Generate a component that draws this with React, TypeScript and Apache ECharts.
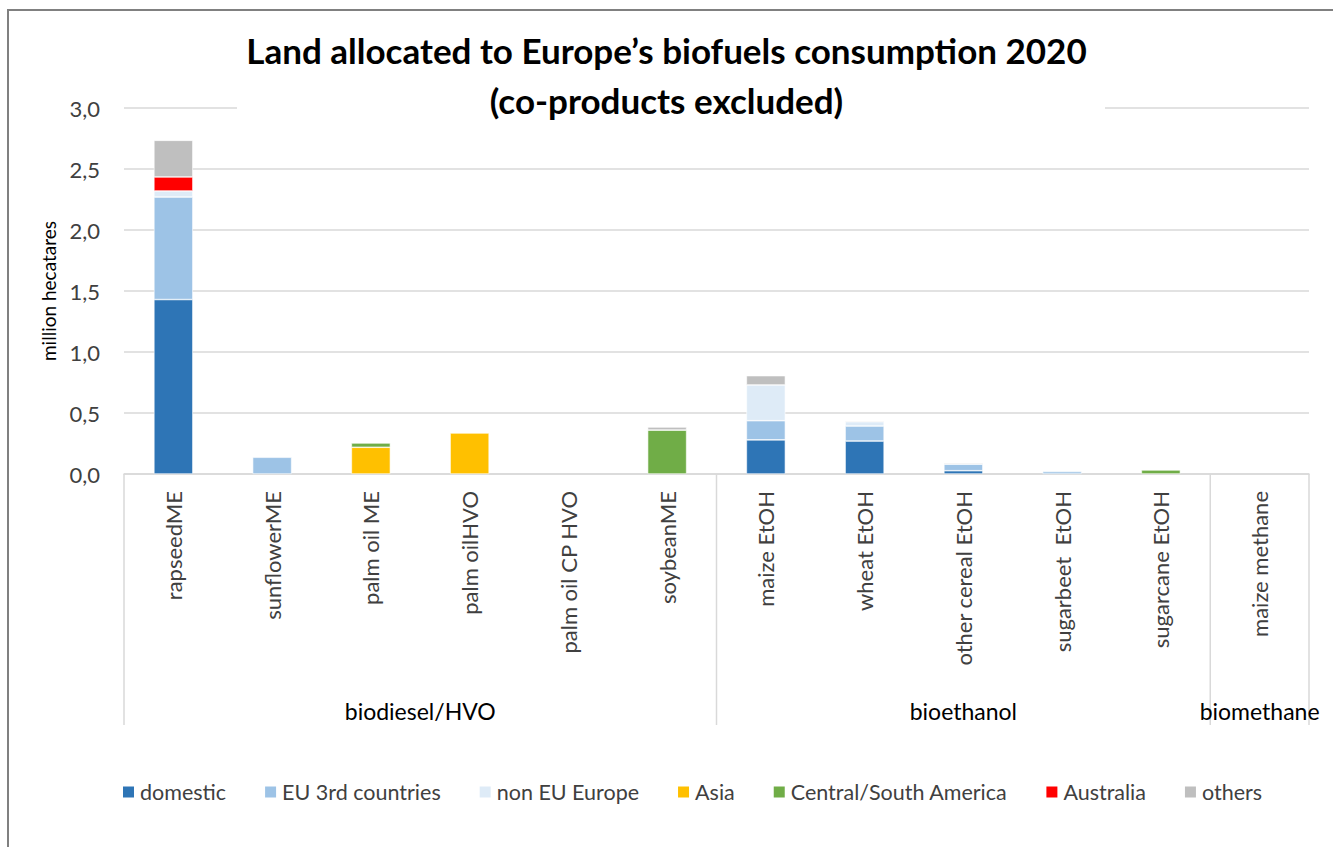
import React, { useEffect, useRef } from "react";
import * as echarts from "echarts";

const categories = [
  "rapseedME",
  "sunflowerME",
  "palm oil ME",
  "palm oilHVO",
  "palm oil CP HVO",
  "soybeanME",
  "maize EtOH",
  "wheat EtOH",
  "other cereal EtOH",
  "sugarbeet  EtOH",
  "sugarcane EtOH",
  "maize methane",
];

const groups = [
  { name: "biodiesel/HVO", start: 0, end: 6 },
  { name: "bioethanol", start: 6, end: 11 },
  { name: "biomethane", start: 11, end: 12 },
];

const domestic = [1.43, null, null, null, null, null, 0.28, 0.27, 0.027, null, null, null];
const eu3rd = [0.84, 0.137, null, null, null, null, 0.157, 0.123, 0.053, 0.02, null, null];
const nonEU = [0.05, null, null, null, null, null, 0.293, 0.036, null, null, null, null];
const asia = [null, null, 0.219, 0.336, null, null, null, null, null, null, null, null];
const csAmerica = [null, null, 0.035, null, null, 0.36, null, null, null, null, 0.033, null];
const australia = [0.115, null, null, null, null, null, null, null, null, null, null, null];
const others = [0.3, null, null, null, null, 0.025, 0.076, 0.008, 0.008, null, null, null];

const seriesDefs = [
  { name: "domestic", data: domestic, color: "#2E75B6" },
  { name: "EU 3rd countries", data: eu3rd, color: "#9DC3E6" },
  { name: "non EU Europe", data: nonEU, color: "#DEEBF7" },
  { name: "Asia", data: asia, color: "#FFC000" },
  { name: "Central/South America", data: csAmerica, color: "#70AD47" },
  { name: "Australia", data: australia, color: "#FF0000" },
  { name: "others", data: others, color: "#BFBFBF" },
];

const FONT = "Lato";
const TXT = "#404040";

export default function App() {
  const ref = useRef<HTMLDivElement>(null);
  useEffect(() => {
    if (!ref.current) return;
    const chart = echarts.init(ref.current, null, { renderer: "svg" });
    const option: any = {
      animation: false,
      backgroundColor: "#fff",
      textStyle: { fontFamily: FONT },
      title: {
        text: "Land allocated to Europe\u2019s biofuels consumption 2020\n(co-products excluded)",
        left: "center",
        top: 25,
        padding: 0,
        z: 10,
        textStyle: {
          fontFamily: FONT,
          fontSize: 35,
          fontWeight: "bold",
          color: "#000",
          lineHeight: 50,
        },
      },
      grid: { left: 124, right: 24, top: 108, bottom: 373, containLabel: false },
      xAxis: {
        type: "category",
        data: categories,
        axisLine: { show: true, lineStyle: { color: "#d9d9d9", width: 1.5 } },
        axisTick: { show: false },
        axisLabel: {
          interval: 0,
          rotate: 90,
          margin: 17,
          fontFamily: FONT,
          fontSize: 22,
          color: TXT,
        },
      },
      yAxis: {
        type: "value",
        min: 0,
        max: 3,
        interval: 0.5,
        name: "million hecatares",
        nameLocation: "middle",
        nameGap: 66,
        nameTextStyle: { fontFamily: FONT, fontSize: 19, color: "#000" },
        axisLine: { show: false },
        axisTick: { show: false },
        axisLabel: {
          margin: 24,
          fontFamily: FONT,
          fontSize: 22,
          color: TXT,
          formatter: (v: number) => v.toFixed(1).replace(".", ","),
        },
        splitLine: { lineStyle: { color: "#d9d9d9", width: 1.5 } },
      },
      legend: {
        left: 121,
        top: 781,
        padding: 0,
        icon: "rect",
        itemWidth: 13,
        itemHeight: 13,
        itemGap: 37,
        textStyle: { fontFamily: FONT, fontSize: 21.5, color: TXT },
        data: seriesDefs.map((s) => s.name),
      },
      series: seriesDefs.map((s) => ({
        name: s.name,
        type: "bar",
        stack: "total",
        barWidth: 39,
        data: s.data,
        itemStyle: { color: s.color, borderColor: "#ffffff", borderWidth: 0.6 },
      })),
    };
    chart.setOption(option);

    const c0 = chart.convertToPixel({ xAxisIndex: 0 }, 0) as number;
    const c1 = chart.convertToPixel({ xAxisIndex: 0 }, 1) as number;
    const bw = c1 - c0;
    const y0 = chart.convertToPixel({ yAxisIndex: 0 }, 0) as number;
    const bx = (i: number) => c0 - bw / 2 + i * bw;
    const boundaries = [0, 6, 11, 12];
    const graphics: any[] = [
      {
        type: "rect",
        z: -1,
        silent: true,
        shape: { x: 8, y: 10, width: 1340, height: 860 },
        style: { fill: "none", stroke: "#808080", lineWidth: 2 },
      },
      {
        type: "rect",
        z: 1,
        silent: true,
        shape: { x: 237, y: 25, width: 868, height: 92 },
        style: { fill: "#fff" },
      },
    ];
    boundaries.forEach((b) => {
      graphics.push({
        type: "line",
        silent: true,
        shape: { x1: bx(b), y1: y0, x2: bx(b), y2: y0 + 251 },
        style: { stroke: "#d9d9d9", lineWidth: 1.5 },
      });
    });
    groups.forEach((g) => {
      graphics.push({
        type: "text",
        silent: true,
        x: (bx(g.start) + bx(g.end)) / 2,
        y: y0 + 237,
        style: {
          text: g.name,
          fontFamily: FONT,
          fontSize: 23,
          fill: "#000",
          align: "center",
          verticalAlign: "middle",
        },
      });
    });
    chart.setOption({ graphic: graphics });

    return () => chart.dispose();
  }, []);
  return (
    <div
      ref={ref}
      style={{ position: "absolute", left: 0, top: 0, width: 1333, height: 847 }}
    />
  );
}
